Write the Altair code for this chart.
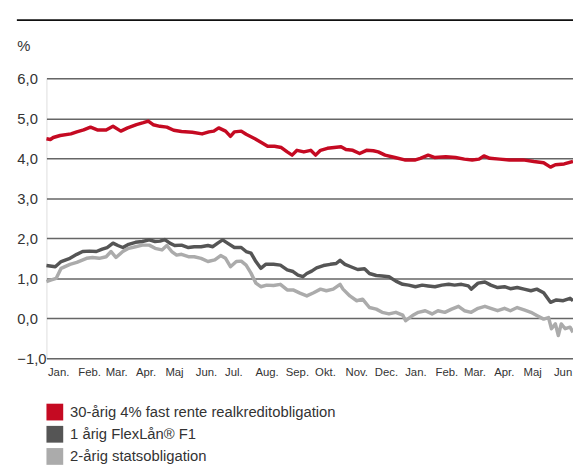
import altair as alt
import pandas as pd

START = pd.Timestamp("2011-01-01")

SERIES = ["30-årig 4% fast rente realkreditobligation", "1 årig FlexLån® F1", "2-årig statsobligation"]
COLORS = ["#c50a22", "#555555", "#ababab"]
MONTHS = ["Jan.", "Feb.", "Mar.", "Apr.", "Maj", "Jun.", "Jul.", "Aug.", "Sep.", "Okt.", "Nov.", "Dec."]
Y_TICKS = [-1, 0, 1, 2, 3, 4, 5, 6]

# day offsets from 1 Jan 2011 and values (%)
red_days = [0, 4, 7, 14, 25, 31, 38, 45, 52, 61, 68, 76, 83, 92, 99, 104, 109, 116, 123, 130,
            138, 149, 159, 166, 171, 176, 183, 188, 192, 199, 204, 213, 220, 226, 233, 240, 246, 251, 256, 263,
            270, 275, 280, 287, 294, 301, 306, 313, 320, 327, 334, 339, 346, 356, 366, 377, 382, 390, 397, 408,
            418, 427, 435, 442, 447, 453, 463, 473, 487, 498, 508, 515, 520, 529, 538]
red_vals = [4.49, 4.47, 4.52, 4.57, 4.61, 4.66, 4.71, 4.78, 4.71, 4.71, 4.80, 4.68, 4.76, 4.84, 4.89, 4.93, 4.84, 4.80, 4.78, 4.70,
            4.67, 4.65, 4.61, 4.66, 4.68, 4.76, 4.68, 4.55, 4.66, 4.68, 4.60, 4.49, 4.39, 4.30, 4.30, 4.27, 4.16, 4.08, 4.20, 4.16,
            4.20, 4.08, 4.20, 4.25, 4.27, 4.29, 4.22, 4.20, 4.12, 4.20, 4.19, 4.16, 4.08, 4.02, 3.96, 3.96, 4.00, 4.08, 4.02, 4.04,
            4.02, 3.98, 3.96, 3.98, 4.06, 4.00, 3.98, 3.96, 3.96, 3.92, 3.89, 3.78, 3.84, 3.86, 3.92]

dark_days = [0, 9, 15, 24, 31, 37, 44, 51, 57, 62, 68, 73, 78, 84, 91, 98, 105, 111, 116, 121,
             126, 131, 138, 145, 151, 158, 165, 170, 175, 180, 185, 192, 199, 204, 209, 214, 219, 224, 232, 239,
             246, 252, 257, 262, 266, 271, 276, 283, 290, 296, 300, 305, 311, 318, 325, 330, 337, 343, 350, 357,
             364, 370, 377, 384, 390, 397, 404, 411, 417, 424, 431, 434, 441, 448, 454, 461, 468, 474, 481, 488,
             495, 501, 508, 515, 521, 528, 535, 538]
dark_vals = [1.32, 1.29, 1.42, 1.50, 1.60, 1.67, 1.68, 1.67, 1.73, 1.77, 1.88, 1.82, 1.77, 1.85, 1.90, 1.92, 1.96, 1.92, 1.93, 1.97,
             1.88, 1.82, 1.83, 1.77, 1.79, 1.79, 1.82, 1.79, 1.88, 1.96, 1.88, 1.77, 1.77, 1.67, 1.63, 1.42, 1.25, 1.35, 1.35, 1.33,
             1.21, 1.17, 1.08, 1.04, 1.12, 1.18, 1.26, 1.32, 1.35, 1.37, 1.45, 1.35, 1.29, 1.22, 1.24, 1.12, 1.07, 1.06, 1.04, 0.93,
             0.85, 0.83, 0.79, 0.83, 0.81, 0.79, 0.83, 0.85, 0.83, 0.85, 0.81, 0.73, 0.88, 0.91, 0.83, 0.77, 0.79, 0.74, 0.77, 0.73,
             0.69, 0.73, 0.64, 0.40, 0.46, 0.44, 0.50, 0.44]

light_days = [0, 5, 10, 15, 24, 31, 41, 47, 54, 61, 66, 71, 78, 84, 91, 98, 105, 111, 118, 123,
              128, 133, 138, 145, 151, 158, 165, 172, 178, 183, 188, 194, 199, 204, 209, 214, 219, 225, 232, 239,
              246, 252, 259, 266, 273, 280, 286, 293, 300, 303, 310, 317, 323, 330, 337, 343, 350, 357, 364, 367,
              374, 380, 387, 394, 400, 407, 414, 421, 427, 434, 441, 448, 454, 461, 468, 474, 481, 488, 495, 501,
              508, 513, 516, 520, 523, 526, 530, 535, 538]
light_vals = [0.92, 0.96, 1.00, 1.25, 1.35, 1.40, 1.50, 1.52, 1.50, 1.54, 1.67, 1.52, 1.67, 1.75, 1.79, 1.83, 1.83, 1.75, 1.71, 1.82,
              1.67, 1.58, 1.60, 1.54, 1.54, 1.50, 1.42, 1.46, 1.57, 1.50, 1.29, 1.42, 1.43, 1.33, 1.13, 0.88, 0.79, 0.83, 0.82, 0.85,
              0.71, 0.71, 0.63, 0.56, 0.64, 0.73, 0.69, 0.73, 0.85, 0.73, 0.56, 0.44, 0.48, 0.27, 0.23, 0.15, 0.11, 0.15, 0.08, -0.06,
              0.07, 0.15, 0.19, 0.11, 0.19, 0.15, 0.23, 0.30, 0.19, 0.15, 0.25, 0.30, 0.25, 0.19, 0.25, 0.19, 0.27, 0.21, 0.15, 0.07,
              -0.02, 0.02, -0.26, -0.14, -0.43, -0.14, -0.26, -0.22, -0.35]


def frame(days, vals, name):
    dates = [(START + pd.Timedelta(days=d)).strftime("%Y-%m-%d") for d in days]
    return pd.DataFrame({"date": dates, "value": vals, "series": name})


df = pd.concat([
    frame(light_days, light_vals, SERIES[2]),
    frame(dark_days, dark_vals, SERIES[1]),
    frame(red_days, red_vals, SERIES[0]),
], ignore_index=True)

# one row per series, used only to carry the (filled square) legend
legend_df = pd.DataFrame({"series": SERIES, "date": ["2011-01-01"] * 3, "value": [-5.0] * 3})

W, H = 534, 284
FONT = "Liberation Sans"
TXT = "#333333"

month_ticks = [alt.DateTime(year=2011 + (i // 12), month=(i % 12) + 1, date=1, utc=True) for i in range(18)]
month_expr = "[" + ",".join("'%s'" % m for m in MONTHS) + "][utcmonth(datum.value)]"

x_enc = alt.X(
    "date:T",
    scale=alt.Scale(type="utc", domain=[alt.DateTime(year=2011, month=1, date=1, utc=True),
                                        alt.DateTime(year=2012, month=6, date=22, utc=True)]),
    axis=alt.Axis(values=month_ticks, labelExpr=month_expr, labelAlign="left", labelOffset=1,
                  ticks=False, tickSize=0, domain=False, grid=False, labelPadding=8,
                  labelFontSize=11.5, labelColor=TXT, labelFlush=False, labelOverlap=False,
                  labelFont=FONT, title=None),
)
y_enc = alt.Y(
    "value:Q",
    scale=alt.Scale(domain=[-1, 6], nice=False, zero=False),
    axis=alt.Axis(values=Y_TICKS, labelExpr="replace(format(datum.value, '.1f'), '.', ',')",
                  labelAlign="left", labelPadding=30, ticks=False, tickSize=0, domain=False,
                  grid=True, gridColor="#666666", gridWidth=1.5, labelFontSize=15, labelColor=TXT,
                  labelFont=FONT, title="%", titleAngle=0, titleAlign="left", titleBaseline="middle",
                  titleX=-30, titleY=-33, titleFontSize=15, titleFontWeight="normal", titleColor=TXT,
                  titleFont=FONT),
)
color_scale = alt.Scale(domain=SERIES, range=COLORS)
legend_cfg = alt.Legend(orient="none", legendX=0, legendY=330, title=None, symbolType="square",
                        symbolSize=289, symbolStrokeWidth=0, symbolOpacity=1, labelFontSize=15,
                        labelColor=TXT, labelFont=FONT, labelOffset=7, rowPadding=5.5, padding=0,
                        labelLimit=0)

legend_layer = alt.Chart(legend_df).mark_square(filled=True, clip=True).encode(
    x=x_enc, y=y_enc,
    color=alt.Color("series:N", scale=color_scale, legend=legend_cfg),
)

layers = [legend_layer]
for name in [SERIES[2], SERIES[1], SERIES[0]]:
    layers.append(
        alt.Chart(df).transform_filter(alt.datum.series == name)
        .mark_line(strokeWidth=3.5, strokeJoin="round")
        .encode(x=x_enc, y=y_enc, color=alt.Color("series:N", scale=color_scale))
    )

top_rule = alt.Chart(pd.DataFrame({"a": [0]})).mark_rule(color="#111111", strokeWidth=2).encode(
    x=alt.value(-30), x2=alt.value(W), y=alt.value(-59)
)

chart = alt.layer(*layers, top_rule).properties(
    width=W, height=H, autosize="none",
    padding={"left": 39, "right": 0, "top": 68, "bottom": 114},
).configure_view(stroke=None).configure(font=FONT)

chart.save("out.html", embed_options={"renderer": "svg", "actions": False})
